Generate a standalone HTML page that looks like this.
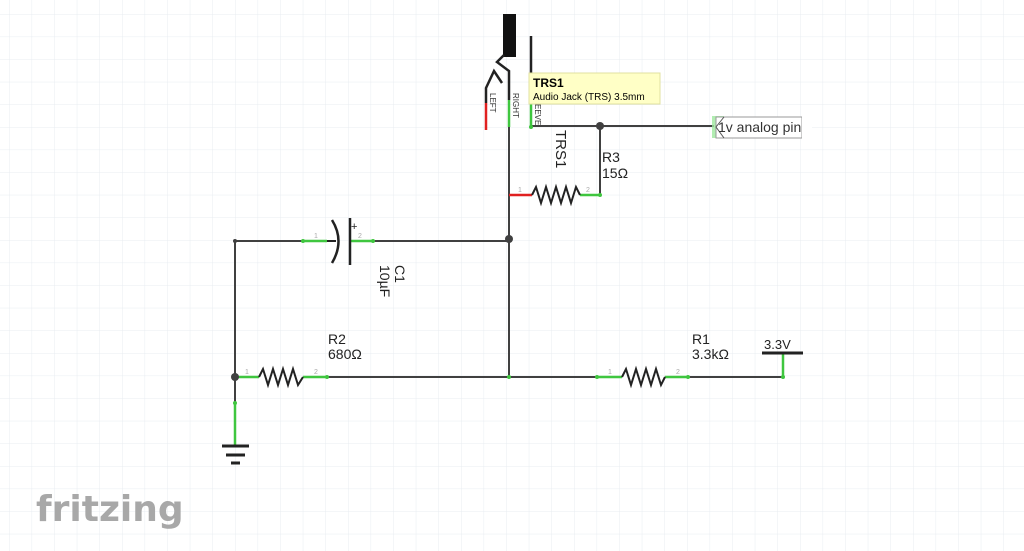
<!DOCTYPE html>
<html><head><meta charset="utf-8"><style>
html,body{margin:0;padding:0;background:#fff;}
body{width:1024px;height:551px;overflow:hidden;position:relative;font-family:"Liberation Sans",sans-serif;}
svg{position:absolute;left:0;top:0;}
</style></head><body>
<svg width="1024" height="551" viewBox="0 0 1024 551" xmlns="http://www.w3.org/2000/svg" font-family="Liberation Sans, sans-serif">
<defs>
<pattern id="g" x="9" y="14" width="22.6" height="22.6" patternUnits="userSpaceOnUse">
<path d="M0 0H22.6M0 0V22.6" stroke="#e8ecf1" stroke-width="1" fill="none"/>
</pattern>
</defs>
<rect width="1024" height="551" fill="url(#g)"/>
<g stroke="#404040" stroke-width="2" fill="none">
<line x1="509" y1="127" x2="509" y2="377"/>
<line x1="235" y1="241" x2="303" y2="241"/>
<line x1="373" y1="241" x2="509" y2="241"/>
<line x1="235" y1="241" x2="235" y2="403"/>
<line x1="327" y1="377" x2="597" y2="377"/>
<line x1="688" y1="377" x2="783" y2="377"/>
<line x1="531" y1="126" x2="714" y2="126"/>
<line x1="600" y1="126" x2="600" y2="195"/>
</g>
<g stroke="#3fc63f" stroke-width="2.5">
<line x1="303" y1="241" x2="327" y2="241"/>
<line x1="350" y1="241" x2="373" y2="241"/>
<line x1="235" y1="377" x2="259" y2="377"/>
<line x1="303" y1="377" x2="327" y2="377"/>
<line x1="597" y1="377" x2="622" y2="377"/>
<line x1="665" y1="377" x2="688" y2="377"/>
<line x1="783" y1="377" x2="783" y2="354"/>
<line x1="235" y1="403" x2="235" y2="446"/>
<line x1="580" y1="195" x2="600" y2="195"/>
<line x1="509" y1="100" x2="509" y2="127"/>
<line x1="531" y1="96" x2="531" y2="127"/>
</g>
<g stroke="#e02020" stroke-width="2.5">
<line x1="509" y1="195" x2="532" y2="195"/>
<line x1="486" y1="103" x2="486" y2="130"/>
</g>
<g stroke="#222" stroke-width="2" fill="none">
<polyline points="259,377 263,369 268,385 273,369 278,385 283,369 288,385 293,369 298,385 303,377"/>
<polyline points="622,377 626,369 631,385 636,369 641,385 646,369 651,385 656,369 661,385 665,377"/>
<polyline points="532,195 536,187 541,203 546,187 551,203 556,187 561,203 566,187 571,203 576,187 580,195"/>
<path d="M332 220 Q345 241 332 263" stroke-width="2.5"/>
<line x1="350" y1="218" x2="350" y2="265" stroke-width="2.5"/>
<line x1="327" y1="241" x2="336" y2="241"/>
<line x1="222" y1="446" x2="249" y2="446" stroke-width="3"/>
<line x1="226" y1="455" x2="245" y2="455" stroke-width="3"/>
<line x1="231" y1="463" x2="240" y2="463" stroke-width="3"/>
<line x1="762" y1="353" x2="803" y2="353" stroke-width="3"/>
<rect x="503" y="14" width="13" height="43" fill="#111" stroke="none"/>
<polyline points="504,55 497,62 509,71 509,100" stroke-width="2.5"/>
<polyline points="486,103 486,88 494,71 502,83" stroke-width="2.5"/>
<line x1="531" y1="36" x2="531" y2="96" stroke-width="2.5"/>
</g>
<g fill="#404040">
<circle cx="509" cy="239" r="4"/>
<circle cx="600" cy="126" r="4"/>
<circle cx="235" cy="377" r="4"/>
<circle cx="235" cy="241" r="2"/>
</g>
<g fill="#3fc63f">
<circle cx="303" cy="241" r="2"/><circle cx="373" cy="241" r="2"/>
<circle cx="327" cy="377" r="2"/><circle cx="597" cy="377" r="2"/>
<circle cx="688" cy="377" r="2"/><circle cx="783" cy="377" r="2"/>
<circle cx="509" cy="377" r="2"/><circle cx="235" cy="403" r="2"/>
<circle cx="600" cy="195" r="2"/><circle cx="531" cy="127" r="2"/>
</g>
<g font-size="7" fill="#aaa">
<text x="314" y="238">1</text><text x="358" y="238">2</text>
<text x="245" y="374">1</text><text x="314" y="374">2</text>
<text x="608" y="374">1</text><text x="676" y="374">2</text>
<text x="518" y="192">1</text><text x="586" y="192">2</text>
</g>
<text x="351" y="230" font-size="11" fill="#222">+</text>
<rect x="712" y="116" width="12" height="22" fill="#9fe89f" opacity="0.8"/>
<rect x="716" y="117" width="86" height="21" fill="#fff" stroke="#999" stroke-width="1"/>
<polyline points="724,117 716,127 724,138" stroke="#555" fill="none"/>
<text x="718" y="132" font-size="14" fill="#333">1v analog pin</text>
<rect x="802" y="115" width="10" height="25" fill="#fff"/>
<g font-size="14" fill="#222">
<text x="328" y="344">R2</text><text x="328" y="359">680Ω</text>
<text x="692" y="344">R1</text><text x="692" y="359">3.3kΩ</text>
<text x="602" y="162">R3</text><text x="602" y="178">15Ω</text>
<text x="764" y="349" font-size="13">3.3V</text>
<text transform="translate(556,130) rotate(90)" font-size="15">TRS1</text>
<text transform="translate(395,265) rotate(90)">C1</text>
<text transform="translate(380,265) rotate(90)">10µF</text>
</g>
<g font-size="8" fill="#333">
<text transform="translate(490,93) rotate(90)">LEFT</text>
<text transform="translate(513,93) rotate(90)">RIGHT</text>
<text transform="translate(535,104) rotate(90)">EEVE</text>
</g>
<rect x="529" y="73" width="131" height="31" fill="#ffffc6" stroke="#e0e0a0" stroke-width="1"/>
<text x="533" y="87" font-size="12" font-weight="bold" fill="#000">TRS1</text>
<text x="533" y="100" font-size="10" fill="#000">Audio Jack (TRS) 3.5mm</text>
<text x="36" y="521" font-size="36" font-weight="bold" fill="#a8a8a8" font-family="DejaVu Sans, sans-serif">fritzing</text>
</svg>
</body></html>
